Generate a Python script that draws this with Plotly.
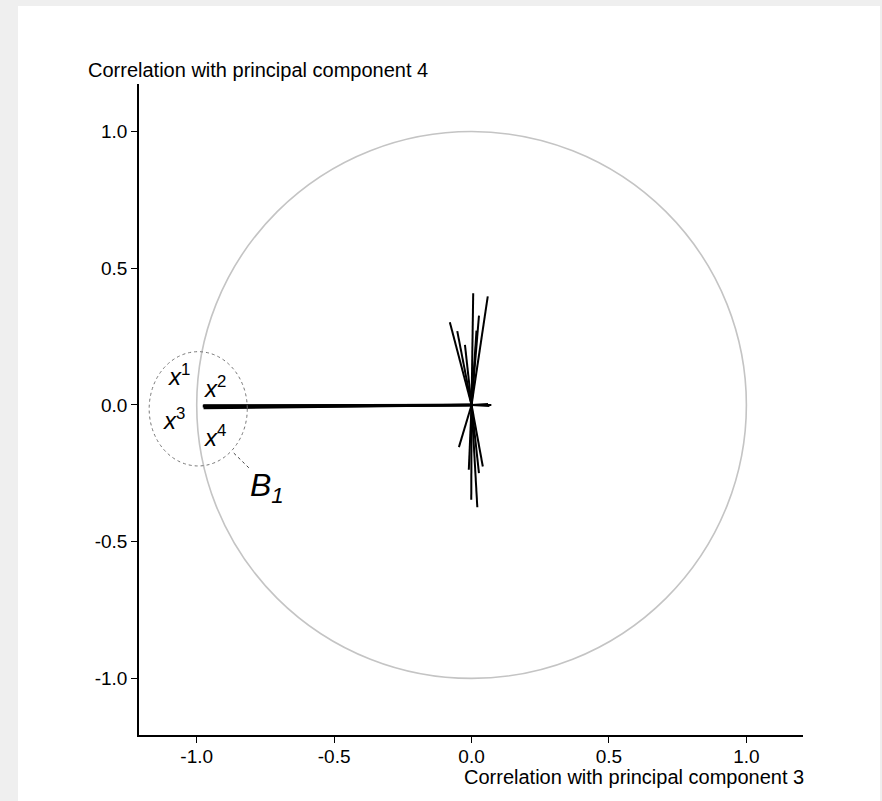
import plotly.graph_objects as go

# ---- data: variable correlations (end points of loading vectors) ----
var_names = ["x1", "x2", "x3", "x4",
             "v5", "v6", "v7", "v8", "v9", "v10", "v11",
             "v12", "v13", "v14", "v15", "v16", "v17",
             "v18", "v19", "v20"]
pc3_corr = [-0.975, -0.978, -0.972, -0.976,
            0.006, 0.059, 0.027, 0.018, -0.079, -0.052, -0.024,
            -0.046, -0.010, -0.001, 0.021, 0.027, 0.041,
            0.072, 0.065, 0.060]
pc4_corr = [-0.011, -0.004, -0.008, -0.002,
            0.409, 0.397, 0.327, 0.272, 0.303, 0.270, 0.220,
            -0.154, -0.237, -0.347, -0.374, -0.249, -0.225,
            0.000, -0.004, 0.004]
block_b1 = ["x1", "x2", "x3", "x4"]

x_ticks = [-1.0, -0.5, 0.0, 0.5, 1.0]
y_ticks = [-1.0, -0.5, 0.0, 0.5, 1.0]
tick_text = ["-1.0", "-0.5", "0.0", "0.5", "1.0"]


def segs(sel):
    xs, ys = [], []
    for n, a, b in zip(var_names, pc3_corr, pc4_corr):
        if sel(n):
            xs += [0, a, None]
            ys += [0, b, None]
    return xs, ys


fig = go.Figure()
xo, yo = segs(lambda n: n not in block_b1)
fig.add_trace(go.Scatter(x=xo, y=yo, mode="lines",
                         line=dict(color="black", width=2),
                         hoverinfo="skip", showlegend=False))
xb, yb = segs(lambda n: n in block_b1)
fig.add_trace(go.Scatter(x=xb, y=yb, mode="lines",
                         line=dict(color="black", width=2.6),
                         hoverinfo="skip", showlegend=False))

FONT = "Liberation Sans, Arial, sans-serif"

shapes = [
    # page background panel
    dict(type="rect", xref="paper", yref="paper",
         x0=-0.1822, x1=1.116, y0=-0.1014, y1=1.1198,
         fillcolor="white", line=dict(width=0), layer="below"),
    # unit circle of correlations
    dict(type="circle", xref="x", yref="y", x0=-1, y0=-1, x1=1, y1=1,
         line=dict(color="#c4c4c4", width=1.6)),
    # dotted block circle B1
    dict(type="circle", xref="x", yref="y", x0=-1.173, y0=-0.223, x1=-0.816, y1=0.195,
         line=dict(color="#777777", width=1, dash="dot")),
    # leader line to B1
    dict(type="line", xref="x", yref="y", x0=-0.865, y0=-0.176, x1=-0.803, y1=-0.237,
         line=dict(color="#444444", width=1, dash="dot")),
]

ann = []
lab_font = dict(family=FONT, size=24, color="black")
for txt, ax, ay in [("<i>x</i><sup>1</sup>", -1.065, 0.110),
                    ("<i>x</i><sup>2</sup>", -0.933, 0.066),
                    ("<i>x</i><sup>3</sup>", -1.084, -0.050),
                    ("<i>x</i><sup>4</sup>", -0.933, -0.112)]:
    ann.append(dict(x=ax, y=ay, xref="x", yref="y", text=txt, showarrow=False,
                    font=lab_font, xanchor="center", yanchor="middle"))
ann.append(dict(x=-0.745, y=-0.300, xref="x", yref="y",
                text="<i>B<sub>1</sub></i>", showarrow=False,
                font=dict(family=FONT, size=32, color="black"),
                xanchor="center", yanchor="middle"))
ann.append(dict(x=-0.0798, y=1.0215, xref="paper", yref="paper",
                text="Correlation with principal component 4", showarrow=False,
                font=dict(family=FONT, size=20, color="black"),
                xanchor="left", yanchor="middle"))
ann.append(dict(x=1.0045, y=-0.064, xref="paper", yref="paper",
                text="Correlation with principal component 3", showarrow=False,
                font=dict(family=FONT, size=20, color="black"),
                xanchor="right", yanchor="middle"))

axis_common = dict(showgrid=False, zeroline=False, showline=True,
                   linecolor="black", linewidth=1.5, ticks="outside",
                   ticklen=6, tickwidth=1.2, tickcolor="black",
                   tickfont=dict(family=FONT, size=19, color="black"),
                   fixedrange=True)

fig.update_layout(
    width=882, height=801,
    margin=dict(l=139, r=79, t=84, b=66),
    paper_bgcolor="#efefef", plot_bgcolor="white",
    xaxis=dict(range=[-1.21, 1.206], tickvals=x_ticks, ticktext=tick_text,
               ticklabelstandoff=-3, **axis_common),
    yaxis=dict(range=[-1.207, 1.174], tickvals=y_ticks, ticktext=tick_text, **axis_common),
    shapes=shapes, annotations=ann, showlegend=False,
)

fig.write_html("out.html",
               config={"displayModeBar": False},
               post_script="document.body.style.margin='0';document.body.style.overflow='hidden';")
